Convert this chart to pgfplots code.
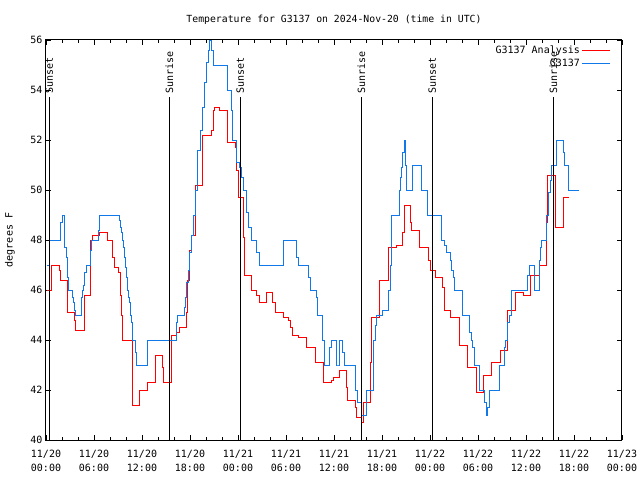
\documentclass[border=0pt]{standalone}
\usepackage{pgfplots}
\pgfplotsset{compat=1.18}
\usepackage{fontspec}
\setmainfont{DejaVu Sans Mono}
\definecolor{obsblue}{RGB}{16,120,232}
\begin{document}
\begin{tikzpicture}
\path[use as bounding box] (0,0) rectangle (640pt,480pt);
\begin{axis}[
  at={(46pt,40pt)}, anchor=south west,
  scale only axis, width=576pt, height=400pt,
  xmin=0, xmax=72, ymin=40, ymax=56,
  xtick={0,6,...,72},
  minor xtick={2,4,8,10,14,16,20,22,26,28,32,34,38,40,44,46,50,52,56,58,62,64,68,70},
  xticklabels={11/20\\00:00,11/20\\06:00,11/20\\12:00,11/20\\18:00,11/21\\00:00,11/21\\06:00,11/21\\12:00,11/21\\18:00,11/22\\00:00,11/22\\06:00,11/22\\12:00,11/22\\18:00,11/23\\00:00},
  ytick={40,42,...,56},
  tick align=inside,
  major tick length=5pt, minor tick length=3pt,
  tick style={black, line width=0.8pt},
  axis line style={line width=1pt},
  /pgf/number format/assume math mode=true,
  x tick label style={font=\fontsize{10}{14}\selectfont, align=center, yshift=-7pt},
  y tick label style={font=\fontsize{10}{11}\selectfont},
  title={Temperature for G3137 on 2024-Nov-20 (time in UTC)},
  title style={at={(axis description cs:0.5,1)}, anchor=base, yshift=11pt, font=\fontsize{9.8}{11}\selectfont},
  ylabel={degrees F},
  every axis y label/.style={at={(axis description cs:-0.0625,0.5)}, rotate=90, anchor=center, font=\fontsize{10}{11}\selectfont},
  legend plot pos=right,
  legend cell align=right,
  legend style={at={(axis description cs:1,1)}, anchor=north east, xshift=-8pt, yshift=-2pt, draw=none, fill=none, font=\fontsize{10}{11}\selectfont, row sep=-0.5pt},
  legend image code/.code={\draw[#1] (0pt,0pt) -- (28pt,0pt);},
  clip=false,
]
\addplot[const plot, red, line width=0.9pt] coordinates {
(0.12,46.0) (0.71,47.0) (1.67,46.8) (1.83,46.4) (2.67,45.1) (3.58,44.8) (3.71,44.4)
(4.79,45.8) (5.58,48.0) (5.83,48.2) (6.67,48.3) (7.71,48.0) (8.33,47.3) (8.5,46.9)
(9.04,46.7) (9.25,45.8) (9.46,45.0) (9.58,44.0) (10.75,41.4) (11.67,42.0) (12.67,42.3)
(13.67,43.4) (14.58,42.9) (14.71,42.3) (15.63,44.2) (16.25,44.3) (16.71,44.5) (17.5,45.1)
(17.67,46.4) (17.87,47.6) (18.13,48.2) (18.7,50.2) (19.54,52.2) (20.71,52.4) (20.92,53.2)
(21.04,53.3) (21.67,53.2) (22.71,51.9) (23.63,51.7) (23.75,50.8) (24.04,49.7) (24.67,48.1)
(24.79,46.6) (25.63,46.0) (26.33,45.8) (26.63,45.5) (27.58,45.9) (28.29,45.5) (28.63,45.1)
(29.67,44.9) (30.29,44.8) (30.5,44.5) (30.79,44.2) (31.54,44.1) (32.58,43.7) (33.63,43.1)
(34.67,42.3) (35.71,42.4) (35.92,42.5) (36.63,42.8) (37.5,42.1) (37.67,41.6) (38.63,41.3)
(38.75,40.9) (39.46,40.7) (39.67,41.5) (40.5,43.1) (40.71,44.9) (41.67,46.4) (42.79,47.7)
(43.83,47.8) (44.58,48.3) (44.79,49.4) (45.5,48.7) (45.71,48.4) (46.67,47.7) (47.79,47.2)
(48.0,46.8) (48.63,46.5) (49.58,46.1) (49.75,45.2) (50.5,44.9) (51.67,43.8) (52.65,42.9)
(53.75,41.9) (54.67,42.6) (55.71,43.1) (56.75,43.6) (57.67,45.2) (58.63,45.9) (59.67,45.8)
(60.5,46.6) (61.63,47.0) (62.5,48.7) (62.63,50.6) (63.71,48.5) (64.67,49.7) (65.42,49.7)
};
\addlegendentry{G3137 Analysis}
\addplot[const plot, obsblue, line width=0.9pt] coordinates {
(0.12,47.0) (0.42,48.0) (1.83,48.7) (2.04,49.0) (2.33,47.7) (2.5,47.3) (2.67,46.5)
(2.79,46.0) (3.29,45.7) (3.42,45.5) (3.54,45.2) (3.67,45.0) (4.42,45.7) (4.58,46.0)
(4.71,46.2) (4.83,46.7) (5.0,47.0) (5.58,47.6) (5.71,48.0) (6.54,48.4) (6.67,49.0)
(9.17,48.8) (9.29,48.5) (9.42,48.3) (9.54,48.0) (9.67,47.7) (9.79,47.3) (9.96,46.9)
(10.08,46.5) (10.21,46.0) (10.33,45.7) (10.42,45.5) (10.58,45.0) (10.71,44.7) (10.83,44.0)
(11.2,43.5) (11.33,43.0) (12.67,44.0) (16.25,44.7) (16.42,45.0) (17.25,45.3) (17.42,45.7)
(17.58,46.3) (17.75,46.8) (17.92,47.5) (18.13,48.2) (18.42,49.0) (18.7,50.0) (18.96,51.6)
(19.25,52.4) (19.54,53.3) (19.75,54.3) (20.0,55.1) (20.29,55.6) (20.42,56.0) (20.71,55.6)
(20.92,55.0) (22.71,54.0) (23.21,53.2) (23.33,52.0) (23.75,51.1) (24.17,50.9) (24.38,50.5)
(24.67,50.0) (25.08,49.1) (25.29,48.5) (25.63,48.0) (26.33,47.5) (26.63,47.0) (29.67,48.0)
(31.33,47.3) (31.58,47.0) (32.79,46.5) (33.0,46.0) (33.75,45.7) (33.92,45.0) (34.58,44.0)
(34.75,43.0) (35.42,43.7) (35.63,44.0) (36.33,43.0) (36.46,43.0) (36.63,44.0) (37.04,43.5)
(37.25,43.0) (38.63,42.0) (38.92,41.5) (39.46,41.0) (40.08,42.0) (40.92,44.0) (41.13,44.6)
(41.33,45.0) (42.08,45.2) (42.79,46.0) (43.0,47.0) (43.13,48.0) (43.21,49.0) (44.13,50.0)
(44.33,50.5) (44.46,50.9) (44.58,51.5) (44.79,52.0) (44.96,51.0) (45.08,50.0) (45.79,51.0)
(46.88,50.0) (47.67,49.0) (49.46,48.0) (49.75,47.8) (50.08,47.5) (50.5,47.2) (50.71,46.8)
(50.92,46.5) (51.04,46.0) (52.1,45.0) (52.92,44.3) (53.13,44.0) (53.33,43.7) (53.5,43.0)
(54.17,42.0) (54.79,41.5) (55.0,41.0) (55.17,41.3) (55.42,42.0) (56.67,43.0) (57.25,43.7)
(57.38,44.0) (57.71,44.7) (57.92,45.0) (58.13,46.0) (60.21,46.6) (60.38,47.0) (61.0,46.0)
(61.67,47.2) (61.83,47.7) (61.96,48.0) (62.58,49.0) (62.79,49.9) (63.0,50.4) (63.13,51.0)
(63.83,52.0) (64.67,51.5) (64.75,51.0) (65.25,50.0) (66.58,50.0)
};
\addlegendentry{G3137}
% sunrise / sunset markers
\addplot[black, line width=0.9pt, forget plot] coordinates {(0.41,40) (0.41,53.7)};
\addplot[black, line width=0.9pt, forget plot] coordinates {(15.41,40) (15.41,53.7)};
\addplot[black, line width=0.9pt, forget plot] coordinates {(24.29,40) (24.29,53.7)};
\addplot[black, line width=0.9pt, forget plot] coordinates {(39.42,40) (39.42,53.7)};
\addplot[black, line width=0.9pt, forget plot] coordinates {(48.29,40) (48.29,53.7)};
\addplot[black, line width=0.9pt, forget plot] coordinates {(63.42,40) (63.42,53.7)};
\begin{scope}[every node/.style={rotate=90, anchor=west, inner sep=2pt, xshift=1.5pt, font=\fontsize{10}{11}\selectfont}]
\node at (axis cs:0.41,53.7) {Sunset};
\node at (axis cs:15.41,53.7) {Sunrise};
\node at (axis cs:24.29,53.7) {Sunset};
\node at (axis cs:39.42,53.7) {Sunrise};
\node at (axis cs:48.29,53.7) {Sunset};
\node at (axis cs:63.42,53.7) {Sunrise};
\end{scope}
\end{axis}
\end{tikzpicture}
\end{document}
